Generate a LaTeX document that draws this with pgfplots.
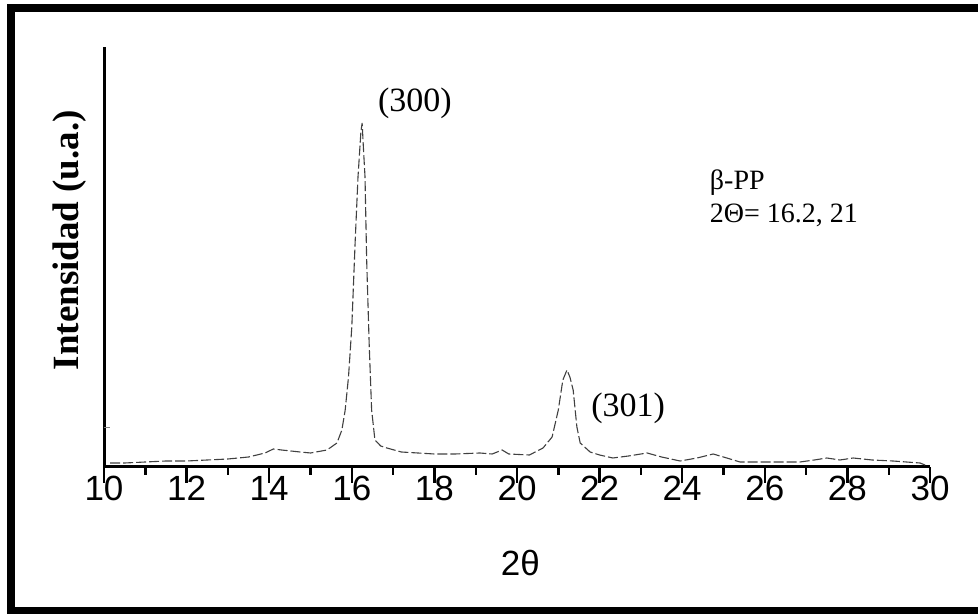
\documentclass[border=0pt]{standalone}
\usepackage{fontspec}
\setmainfont{Liberation Serif}
\setsansfont{Liberation Sans}
\usepackage{pgfplots}
\pgfplotsset{compat=1.18}
\usepackage{pgfplotstable}

% XRD pattern, intensity in arbitrary units
\pgfplotstableread{
x y
10.15 4
10.5 4
11.0 5
11.5 6
12.0 6
12.5 7
13.0 8
13.5 10
13.9 14
14.1 18
14.3 17
14.75 15
15.0 14
15.4 17
15.64 24
15.76 37
15.84 57
15.92 90
16.00 140
16.08 224
16.15 290
16.22 335
16.25 344
16.28 320
16.32 290
16.36 207
16.42 124
16.48 57
16.56 27
16.7 21
16.85 19
17.2 15
17.6 14
18.0 13
18.5 13
19.1 14
19.4 13
19.64 17
19.8 13
20.3 12
20.63 19
20.85 30
21.0 57
21.11 87
21.21 97
21.28 90
21.36 77
21.45 40
21.53 24
21.77 15
22.0 12
22.32 9
22.7 11
23.15 14
23.5 10
23.95 6
24.36 9
24.75 13
25.08 9
25.4 5
26.0 5
26.85 5
27.2 7
27.5 9
27.82 7
28.14 9
28.6 7
29.1 6
29.76 4
29.88 2
}\xrd

\begin{document}
\begin{tikzpicture}
\useasboundingbox (0,0) rectangle (489pt,307pt);
\draw[line width=4pt] (5.5pt,1.5pt) rectangle (495pt,303pt);
\begin{axis}[
  at={(52pt,73.5pt)}, anchor=south west,
  scale only axis, width=413pt, height=210pt,
  xmin=10, xmax=30, ymin=0, ymax=420,
  axis lines=left,
  axis line style={-, line width=1.5pt},
  xtick={10,12,...,30},
  minor x tick num=1,
  tick align=outside,
  major tick length=8pt, minor tick length=4pt,
  x tick style={line width=1.2pt, black},
  ytick=\empty,
  extra y ticks={40}, extra y tick labels={},
  extra y tick style={tick align=inside, major tick length=3pt, line width=0.5pt},
  /pgf/number format/assume math mode=true,
  xticklabel style={font=\fontsize{17.5}{17.5}\sffamily, yshift=7pt},
  xlabel={2θ},
  xlabel style={at={(rel axis cs:0.504,0)}, anchor=center, yshift=-48pt,
    font=\fontsize{17.5}{17.5}\sffamily},
  ylabel={Intensidad (u.a.)},
  ylabel style={at={(rel axis cs:0,0.54)}, anchor=center, rotate=0, yshift=17pt,
    font=\fontsize{18.5}{18.5}\selectfont\bfseries},
  clip=false,
]
\addplot[black!75, line width=0.55pt, dash pattern=on 5pt off 1.5pt] table[x=x, y=y] {\xrd};
\node[font=\fontsize{17}{17}\selectfont] at (axis cs:17.53,364) {(300)};
\node[font=\fontsize{17}{17}\selectfont] at (axis cs:22.69,59) {(301)};
\node[font=\fontsize{14}{14}\selectfont, anchor=west] at (axis cs:24.5,284) {β-PP};
\node[font=\fontsize{14}{14}\selectfont, anchor=west] at (axis cs:24.5,252) {2Θ= 16.2, 21};
\end{axis}
\end{tikzpicture}
\end{document}
